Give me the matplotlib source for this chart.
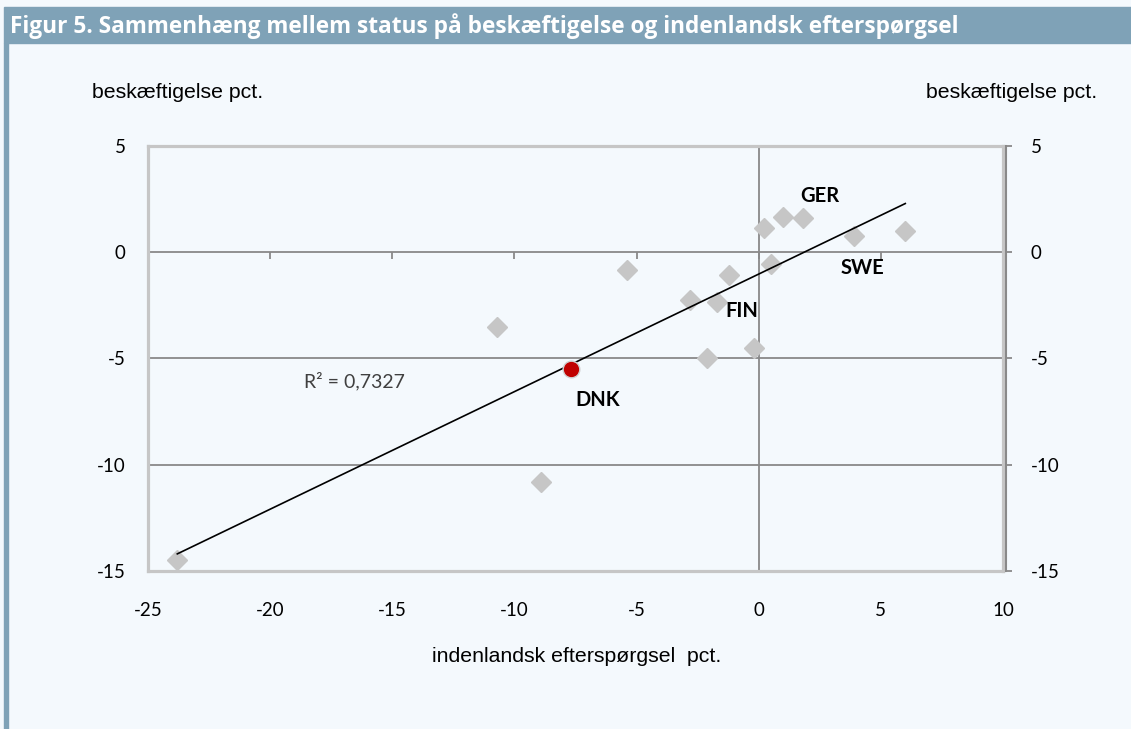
import matplotlib.pyplot as plt
import numpy as np

# indenlandsk efterspørgsel (x) vs beskæftigelse (y), pct.
demand = [-23.8, -10.7, -8.9, -5.4, -2.8, -2.1, -1.7, -1.2, -0.2, 0.2, 0.5, 1.0, 1.8, 3.9, 6.0, -7.7]
employment = [-14.5, -3.5, -10.8, -0.85, -2.25, -5.0, -2.35, -1.05, -4.5, 1.15, -0.55, 1.65, 1.6, 0.75, 1.0, -5.5]
dnk = (-7.7, -5.5)

labels = ["GER", "SWE", "FIN", "DNK"]
label_pos = [(2.5, 2.65), (4.25, -0.75), (-0.7, -2.75), (-6.6, -6.95)]

xticks = [-25, -20, -15, -10, -5, 0, 5, 10]
yticks = [5, 0, -5, -10, -15]

bg = "#f4f9fd"
bar = "#7fa2b7"
frame = "#c6c6c6"
axis_grey = "#898989"

plt.rcParams["axes.unicode_minus"] = False

fig = plt.figure(figsize=(11.31, 7.29), dpi=100, facecolor=bg)

# title bar and left border
fig.patches.append(plt.Rectangle((4 / 1131, 1 - 43 / 729), 1, 36 / 729,
                                 transform=fig.transFigure, color=bar, zorder=0))
fig.patches.append(plt.Rectangle((4 / 1131, 0), 3.5 / 1131, 1 - 43 / 729,
                                 transform=fig.transFigure, color=bar, zorder=0))
fig.text(10 / 1131, 1 - 26 / 729,
         "Figur 5. Sammenhæng mellem status på beskæftigelse og indenlandsk efterspørgsel",
         color="white", fontsize=16.3, fontweight="bold", family="Open Sans", va="center")

ax = fig.add_axes([148 / 1131, 1 - 571 / 729, 855 / 1131, 425 / 729])
ax.set_facecolor(bg)
ax.set_xlim(-25, 10)
ax.set_ylim(-15, 5)
for s in ax.spines.values():
    s.set_color(frame)
    s.set_linewidth(2.3)

ax.set_xticks(xticks)
ax.set_yticks(yticks)
ax.tick_params(axis="both", length=0, labelsize=13.5)
ax.tick_params(axis="x", pad=22)
ax.tick_params(axis="y", pad=16)
for lab in ax.get_xticklabels() + ax.get_yticklabels():
    lab.set_family("Lato")

# gridlines and the axes through zero
for y in [-5, -10]:
    ax.axhline(y, color=axis_grey, lw=1.3, zorder=1)
ax.axhline(0, color=axis_grey, lw=1.3, zorder=1)
ax.axvline(0, color=axis_grey, lw=1.3, zorder=1)
ax.vlines(xticks[1:-1], -0.3, 0, color=axis_grey, lw=1.3, zorder=1)
ax.hlines([5, -15], -0.3, 0, color=axis_grey, lw=1.3, zorder=1)

# right axis
ax2 = ax.twinx()
ax2.set_ylim(-15, 5)
ax2.set_yticks(yticks)
for s in ["left", "top", "bottom"]:
    ax2.spines[s].set_visible(False)
ax2.spines["right"].set_position(("outward", 2))
ax2.spines["right"].set_color(axis_grey)
ax2.spines["right"].set_linewidth(1.5)
ax2.tick_params(axis="y", direction="out", length=4, width=1.3, color=axis_grey,
                labelsize=13.5, pad=14)
for lab in ax2.get_yticklabels():
    lab.set_family("Lato")

# scatter points and trend line
ax.plot(demand[:-1], employment[:-1], ls="none", marker="D", ms=10,
        color="#c6c6c6", zorder=3)
slope, intercept = np.polyfit(demand, employment, 1)
xs = np.array([min(demand), max(demand)])
ax.plot(xs, slope * xs + intercept, color="black", lw=1.2, zorder=4)
ax.plot(*dnk, ls="none", marker="o", ms=12, color="#c00000",
        markeredgecolor="#d0d0d0", markeredgewidth=1, zorder=5)

for lab, (x, y) in zip(labels, label_pos):
    ax.text(x, y, lab, fontsize=14.5, fontweight="bold", family="Lato",
            ha="center", va="center", zorder=6)

ax.text(-18.6, -6.05, "R² = 0,7327", fontsize=14, fontweight="normal",
        family="Lato", color="#404040", va="center")

fig.text(178 / 1131, 1 - 92 / 729, "beskæftigelse pct.", fontsize=15.3,
         family="Liberation Sans", ha="center", va="center")
fig.text(1012 / 1131, 1 - 92 / 729, "beskæftigelse pct.", fontsize=15.3,
         family="Liberation Sans", ha="center", va="center")
fig.text(577 / 1131, 1 - 657 / 729, "indenlandsk efterspørgsel  pct.", fontsize=15.3,
         family="Liberation Sans", ha="center", va="center")

fig.savefig("out.png", dpi=100, facecolor=bg)
